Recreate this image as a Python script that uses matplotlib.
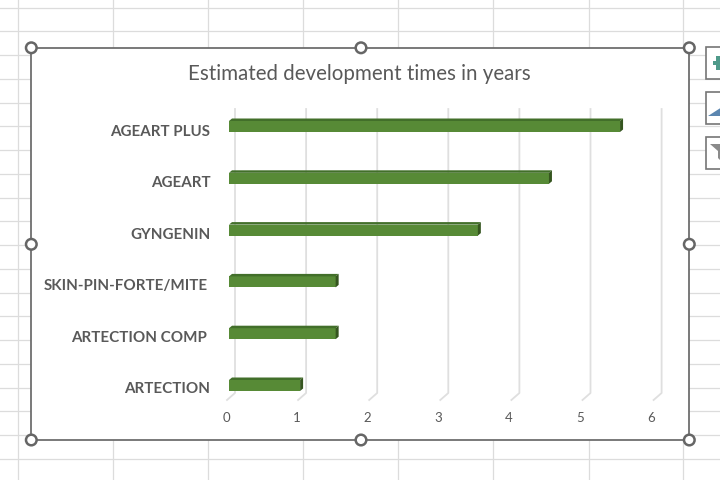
import matplotlib
matplotlib.use("Agg")
import matplotlib.pyplot as plt
from matplotlib.patches import Circle, Polygon, Rectangle
from matplotlib.transforms import ScaledTranslation

# ---- data (bottom to top) ----
categories = ["ARTECTION", "ARTECTION COMP", "SKIN-PIN-FORTE/MITE", "GYNGENIN", "AGEART", "AGEART PLUS"]
years = [1.0, 1.5, 1.5, 3.5, 4.5, 5.5]
x_ticks = [0, 1, 2, 3, 4, 5, 6]
title = "Estimated development times in years"

# ---- layout (pixels) ----
W, H = 720, 480
PX_PER_YEAR = 71.1
PX_PER_CAT = 51.8
X0, Y0 = 229.0, 385.5      # front plane origin
AX_R, AX_T, AX_B = 689.0, 100.0, 401.0
BACK_DX = 6.0              # wall offset
BAR_H = 11.0
DX, DY = 3.0, 2.5          # bar depth
label_pads = [13.8, 15.8, 15.2, 13.0, 13.4, 13.4]
TEXT = "#595959"
FONT = ["Lato", "DejaVu Sans"]

fig = plt.figure(figsize=(W / 100, H / 100), dpi=100, facecolor="white")

# ---- spreadsheet backdrop and chart frame, in pixel space ----
bg = fig.add_axes([0, 0, 1, 1])
bg.set_xlim(0, W)
bg.set_ylim(H, 0)
bg.axis("off")
GRID = "#dcdcdc"
for x in [18, 113, 208, 303, 398, 493, 589, 683]:
    bg.plot([x, x], [0, H], color=GRID, lw=0.9, zorder=1)
for k in range(20):
    y = 7.5 + 23.75 * k
    bg.plot([0, W], [y, y], color=GRID, lw=0.9, zorder=1)
bg.add_patch(Rectangle((31.3, 47.8), 658, 392.2, facecolor="white", edgecolor="#6e6e6e", lw=1.3, zorder=2))
for cx, cy in [(31.3, 47.8), (361, 47.8), (689.3, 47.8), (31.3, 244.3), (689.3, 244.3),
               (31.3, 440), (361, 440), (689.3, 440)]:
    bg.add_patch(Circle((cx, cy), 5.3, facecolor="white", edgecolor="#666666", lw=1.8, zorder=3))
# side buttons
for top in [47, 92, 137]:
    bg.add_patch(Rectangle((705.5, top), 30, 32, facecolor="white", edgecolor="#767676", lw=1.2, zorder=2))
bg.add_patch(Rectangle((713, 61), 8, 4, facecolor="#4f9a8a", zorder=3))
bg.add_patch(Rectangle((716, 56), 5, 14, facecolor="#4f9a8a", zorder=3))
bg.add_patch(Polygon([(708, 116), (722, 116), (722, 107)], facecolor="#5b86b0", zorder=3))
bg.add_patch(Polygon([(710, 144), (722, 144), (722, 162), (718, 158), (718, 151)], facecolor="#8a8a8a", zorder=3))

# ---- chart ----
left = X0 / W
bottom = 1 - AX_B / H
ax = fig.add_axes([left, bottom, (AX_R - X0) / W, (AX_B - AX_T) / H], facecolor="none")
ax.set_xlim(0, (AX_R - X0) / PX_PER_YEAR)
ax.set_ylim((Y0 - AX_B) / PX_PER_CAT, (Y0 - AX_T) / PX_PER_CAT)
for s in ax.spines.values():
    s.set_visible(False)

xo = BACK_DX / PX_PER_YEAR
g_bottom = (Y0 - 393) / PX_PER_CAT
g_foot = (Y0 - 400) / PX_PER_CAT
g_top = (Y0 - 109) / PX_PER_CAT
for t in x_ticks:
    ax.plot([t + xo, t + xo, t + xo - 8 / PX_PER_YEAR], [g_top, g_bottom, g_foot],
            color="#dfdfdf", lw=1.3, zorder=1, clip_on=False, solid_joinstyle="round")

h = BAR_H / PX_PER_CAT
dx, dy = DX / PX_PER_YEAR, DY / PX_PER_CAT
ys = list(range(len(categories)))
ax.barh(ys, years, height=h, color="#578a36", zorder=3)
for y, v in zip(ys, years):
    ax.add_patch(Polygon([(0, y + h / 2), (v, y + h / 2), (v + dx, y + h / 2 + dy), (dx, y + h / 2 + dy)],
                         facecolor="#426f2a", edgecolor="none", zorder=3))
    ax.add_patch(Polygon([(v, y - h / 2), (v + dx, y - h / 2 + dy), (v + dx, y + h / 2 + dy), (v, y + h / 2)],
                         facecolor="#35551f", edgecolor="none", zorder=3))

ax.set_xticks(x_ticks)
ax.set_xticklabels([str(t) for t in x_ticks], fontsize=9.5, color=TEXT, family=FONT)
ax.set_yticks(ys)
ax.set_yticklabels(categories, fontsize=10.9, fontweight="bold", color=TEXT, family=FONT)
ax.tick_params(axis="both", length=0)
ax.tick_params(axis="x", pad=8)
for i, (tick, pad) in enumerate(zip(ax.yaxis.get_major_ticks(), label_pads)):
    tick.set_pad(pad)
    lab = tick.label1
    lab.set_transform(lab.get_transform() + ScaledTranslation(0, (-2.0 - 0.35 * i) / 100, fig.dpi_scale_trans))
for i, lab in enumerate(ax.get_xticklabels()):
    lab.set_transform(lab.get_transform() + ScaledTranslation((-3 - 0.3 * i) / 100, 0, fig.dpi_scale_trans))

fig.text(359.5 / W, 1 - 74 / H, title, ha="center", va="center", fontsize=14.8, color=TEXT, family=FONT)

fig.savefig("out.png", dpi=100)
